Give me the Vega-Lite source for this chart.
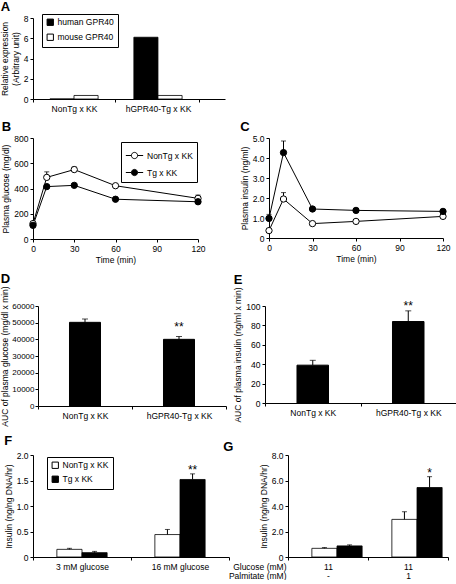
{
  "$schema": "https://vega.github.io/schema/vega-lite/v6.json",
  "padding": {"left": 0, "top": 0, "right": 0, "bottom": 0},
  "background": "white",
  "config": {
    "font": "Liberation Sans",
    "view": {"stroke": null},
    "axis": {"labelFont": "Liberation Sans", "titleFont": "Liberation Sans", "labelFontSize": 8.5, "titleFontSize": 8.5, "titleFontWeight": "normal", "labelColor": "black", "titleColor": "black", "domainColor": "black", "tickColor": "black", "tickSize": 3, "grid": false, "labelPadding": 2, "titlePadding": 3, "labelFlush": false},
    "title": {"fontSize": 13, "fontWeight": "bold", "anchor": "start", "frame": "bounds", "color": "black", "offset": 0},
    "legend": {"labelFont": "Liberation Sans", "labelFontSize": 8.5, "labelColor": "black", "strokeColor": "black", "padding": 4, "rowPadding": 4, "cornerRadius": 0, "labelOffset": 3},
    "tick": {"thickness": 1}
  },
  "concat": [
    {
      "title": {"text": "A", "offset": 0},
      "width": 192, "height": 81,
      "data": {"values": [
        {"group": "NonTg x KK", "gene": "human GPR40", "value": 0},
        {"group": "NonTg x KK", "gene": "mouse GPR40", "value": 0.35},
        {"group": "hGPR40-Tg x KK", "gene": "human GPR40", "value": 6.1},
        {"group": "hGPR40-Tg x KK", "gene": "mouse GPR40", "value": 0.35}
      ]},
      "mark": {"type": "bar", "stroke": "black", "strokeWidth": 0.8},
      "encoding": {
        "x": {"field": "group", "type": "nominal", "sort": null, "title": null, "scale": {"paddingInner": 0.024, "paddingOuter": 0.155, "align": 0}, "axis": {"tickBand": "extent", "labelAngle": 0}},
        "xOffset": {"field": "gene", "type": "nominal", "sort": null, "scale": {"paddingInner": 0, "paddingOuter": 0.7}},
        "y": {"field": "value", "type": "quantitative", "scale": {"domain": [0, 8]}, "axis": {"values": [0, 2, 4, 6, 8], "title": ["Relative expression", "(Arbitrary unit)"]}},
        "fill": {"field": "gene", "type": "nominal", "sort": null, "scale": {"domain": ["human GPR40", "mouse GPR40"], "range": ["black", "white"]}, "legend": {"title": null, "orient": "none", "legendX": 9, "legendY": -4, "symbolType": "square", "symbolStrokeColor": "black", "symbolStrokeWidth": 1, "symbolSize": 40}}
      }
    },
    {
      "hconcat": [
        {
          "title": {"text": "B", "offset": 0},
          "width": 165, "height": 101,
          "data": {"values": [
            {"series": "NonTg x KK", "t": 0, "v": 122},
            {"series": "NonTg x KK", "t": 10, "v": 488, "hi": 532},
            {"series": "NonTg x KK", "t": 30, "v": 550, "hi": 570},
            {"series": "NonTg x KK", "t": 60, "v": 422},
            {"series": "NonTg x KK", "t": 120, "v": 322, "hi": 348},
            {"series": "Tg x KK", "t": 0, "v": 108},
            {"series": "Tg x KK", "t": 10, "v": 415},
            {"series": "Tg x KK", "t": 30, "v": 425},
            {"series": "Tg x KK", "t": 60, "v": 315},
            {"series": "Tg x KK", "t": 120, "v": 295}
          ]},
          "encoding": {
            "x": {"field": "t", "type": "quantitative", "scale": {"domain": [0, 120], "nice": false}, "axis": {"values": [0, 30, 60, 90, 120], "title": "Time (min)"}},
            "y": {"field": "v", "type": "quantitative", "scale": {"domain": [0, 800]}, "axis": {"values": [0, 200, 400, 600, 800], "title": "Plasma glucose (mg/dl)"}}
          },
          "layer": [
            {"mark": {"type": "line", "color": "black", "strokeWidth": 1}, "encoding": {"detail": {"field": "series"}}},
            {"transform": [{"filter": "isValid(datum.hi)"}], "mark": {"type": "rule", "color": "black", "strokeWidth": 1}, "encoding": {"y2": {"field": "hi"}}},
            {"transform": [{"filter": "isValid(datum.hi)"}], "mark": {"type": "tick", "orient": "horizontal", "color": "black", "size": 5, "thickness": 1}, "encoding": {"y": {"field": "hi", "type": "quantitative", "scale": {"domain": [0, 800]}, "axis": {"values": [0, 200, 400, 600, 800], "title": "Plasma glucose (mg/dl)"}}}},
            {"mark": {"type": "point", "shape": "circle", "size": 40, "stroke": "black", "strokeWidth": 1, "opacity": 1, "filled": true},
             "encoding": {"fill": {"field": "series", "type": "nominal", "scale": {"domain": ["NonTg x KK", "Tg x KK"], "range": ["white", "black"]}, "legend": {"title": null, "orient": "none", "legendX": 88, "legendY": 4, "symbolType": "M-1,0L-0.36,0M0.36,0L1,0M-0.36,0A0.36,0.36,0,1,1,0.36,0A0.36,0.36,0,1,1,-0.36,0Z", "symbolSize": 300, "symbolStrokeColor": "black", "symbolStrokeWidth": 1, "rowPadding": 2}}}}
          ]
        },
        {
          "title": {"text": "C", "offset": 0},
          "width": 174, "height": 100,
          "data": {"values": [
            {"series": "NonTg x KK", "t": 0, "v": 0.37},
            {"series": "NonTg x KK", "t": 10, "v": 1.95, "hi": 2.27},
            {"series": "NonTg x KK", "t": 30, "v": 0.72},
            {"series": "NonTg x KK", "t": 60, "v": 0.83},
            {"series": "NonTg x KK", "t": 120, "v": 1.08, "hi": 1.16},
            {"series": "Tg x KK", "t": 0, "v": 0.98, "hi": 1.18},
            {"series": "Tg x KK", "t": 10, "v": 4.27, "hi": 4.85},
            {"series": "Tg x KK", "t": 30, "v": 1.45},
            {"series": "Tg x KK", "t": 60, "v": 1.38},
            {"series": "Tg x KK", "t": 120, "v": 1.33}
          ]},
          "encoding": {
            "x": {"field": "t", "type": "quantitative", "scale": {"domain": [0, 120], "nice": false}, "axis": {"values": [0, 30, 60, 90, 120], "title": "Time (min)"}},
            "y": {"field": "v", "type": "quantitative", "scale": {"domain": [0, 5]}, "axis": {"values": [0, 1, 2, 3, 4, 5], "labelExpr": "datum.value == 0 ? '0' : format(datum.value, '.1f')", "title": "Plasma insulin (ng/ml)"}}
          },
          "layer": [
            {"mark": {"type": "line", "color": "black", "strokeWidth": 1}, "encoding": {"detail": {"field": "series"}}},
            {"transform": [{"filter": "isValid(datum.hi)"}], "mark": {"type": "rule", "color": "black", "strokeWidth": 1}, "encoding": {"y2": {"field": "hi"}}},
            {"transform": [{"filter": "isValid(datum.hi)"}], "mark": {"type": "tick", "orient": "horizontal", "color": "black", "size": 5, "thickness": 1}, "encoding": {"y": {"field": "hi", "type": "quantitative", "scale": {"domain": [0, 5]}, "axis": {"values": [0, 1, 2, 3, 4, 5], "labelExpr": "datum.value == 0 ? '0' : format(datum.value, '.1f')", "title": "Plasma insulin (ng/ml)"}}}},
            {"mark": {"type": "point", "shape": "circle", "size": 40, "stroke": "black", "strokeWidth": 1, "opacity": 1, "filled": true},
             "encoding": {"fill": {"field": "series", "type": "nominal", "scale": {"domain": ["NonTg x KK", "Tg x KK"], "range": ["white", "black"]}, "legend": {"title": null, "orient": "none", "legendX": 96, "legendY": 0, "symbolType": "M-1,0L-0.36,0M0.36,0L1,0M-0.36,0A0.36,0.36,0,1,1,0.36,0A0.36,0.36,0,1,1,-0.36,0Z", "symbolSize": 300, "symbolStrokeColor": "black", "symbolStrokeWidth": 1, "rowPadding": 2}}}}
          ]
        }
      ],
      "bounds": "flush",
      "spacing": 71
    },
    {
      "hconcat": [
        {
          "width": 5, "height": 20,
          "data": {"values": [{"a": 1}]},
          "mark": {"type": "point", "opacity": 0},
          "encoding": {}
        },
        {
          "hconcat": [
            {
              "title": {"text": "D", "offset": 0},
              "width": 188, "height": 100,
              "data": {"values": [
                {"group": "NonTg x KK", "v": 50200, "hi": 52200, "sig": ""},
                {"group": "hGPR40-Tg x KK", "v": 40000, "hi": 41700, "sig": "**"}
              ]},
              "encoding": {
                "x": {"field": "group", "type": "nominal", "sort": null, "title": null, "scale": {"paddingInner": 0, "paddingOuter": 0}, "axis": {"tickBand": "extent", "labelAngle": 0}},
                "y": {"field": "v", "type": "quantitative", "scale": {"domain": [0, 60000]}, "axis": {"values": [0, 10000, 20000, 30000, 40000, 50000, 60000], "format": "d", "labelFontSize": 8, "labelPadding": 1, "titlePadding": 2, "title": "AUC of plasma glucose (mg/dl x min)"}}
              },
              "layer": [
                {"mark": {"type": "bar", "fill": "black", "stroke": "black", "width": {"band": 0.33}}},
                {"mark": {"type": "rule", "color": "black", "strokeWidth": 1}, "encoding": {"y2": {"field": "hi"}}},
                {"mark": {"type": "tick", "orient": "horizontal", "color": "black", "size": 6, "thickness": 1}, "encoding": {"y": {"field": "hi", "type": "quantitative", "scale": {"domain": [0, 60000]}, "axis": {"values": [0, 10000, 20000, 30000, 40000, 50000, 60000], "format": "d", "labelFontSize": 8, "labelPadding": 1, "titlePadding": 2, "title": "AUC of plasma glucose (mg/dl x min)"}}}},
                {"mark": {"type": "text", "fontSize": 12, "baseline": "alphabetic", "dy": -6, "color": "black"}, "encoding": {"y": {"field": "hi", "type": "quantitative", "scale": {"domain": [0, 60000]}, "axis": {"values": [0, 10000, 20000, 30000, 40000, 50000, 60000], "format": "d", "labelFontSize": 8, "labelPadding": 1, "titlePadding": 2, "title": "AUC of plasma glucose (mg/dl x min)"}}, "text": {"field": "sig"}}}
              ]
            },
            {
              "title": {"text": "E", "offset": 0},
              "width": 191, "height": 97,
              "data": {"values": [
                {"group": "NonTg x KK", "v": 39, "hi": 44, "sig": ""},
                {"group": "hGPR40-Tg x KK", "v": 84, "hi": 95, "sig": "**"}
              ]},
              "encoding": {
                "x": {"field": "group", "type": "nominal", "sort": null, "title": null, "scale": {"paddingInner": 0, "paddingOuter": 0}, "axis": {"tickBand": "extent", "labelAngle": 0}},
                "y": {"field": "v", "type": "quantitative", "scale": {"domain": [0, 100]}, "axis": {"values": [0, 20, 40, 60, 80, 100], "title": "AUC of plasma insulin (ng/ml x min)"}}
              },
              "layer": [
                {"mark": {"type": "bar", "fill": "black", "stroke": "black", "width": {"band": 0.33}}},
                {"mark": {"type": "rule", "color": "black", "strokeWidth": 1}, "encoding": {"y2": {"field": "hi"}}},
                {"mark": {"type": "tick", "orient": "horizontal", "color": "black", "size": 6, "thickness": 1}, "encoding": {"y": {"field": "hi", "type": "quantitative", "scale": {"domain": [0, 100]}, "axis": {"values": [0, 20, 40, 60, 80, 100], "title": "AUC of plasma insulin (ng/ml x min)"}}}},
                {"mark": {"type": "text", "fontSize": 12, "baseline": "alphabetic", "dy": -1, "color": "black"}, "encoding": {"y": {"field": "hi", "type": "quantitative", "scale": {"domain": [0, 100]}, "axis": {"values": [0, 20, 40, 60, 80, 100], "title": "AUC of plasma insulin (ng/ml x min)"}}, "text": {"field": "sig"}}}
              ]
            }
          ],
          "bounds": "flush",
          "spacing": 39
        }
      ],
      "bounds": "flush",
      "spacing": 0
    },
    {
      "hconcat": [
        {
          "title": {"text": "F", "offset": 3},
          "width": 196, "height": 102,
          "data": {"values": [
            {"group": "3 mM glucose", "series": "NonTg x KK", "v": 0.15, "hi": 0.17, "sig": ""},
            {"group": "3 mM glucose", "series": "Tg x KK", "v": 0.085, "hi": 0.11, "sig": ""},
            {"group": "16 mM glucose", "series": "NonTg x KK", "v": 0.44, "hi": 0.54, "sig": ""},
            {"group": "16 mM glucose", "series": "Tg x KK", "v": 1.52, "hi": 1.63, "sig": "**"}
          ]},
          "encoding": {
            "x": {"field": "group", "type": "nominal", "sort": null, "title": null, "scale": {"paddingInner": 0, "paddingOuter": 0}, "axis": {"tickBand": "extent", "labelAngle": 0}},
            "xOffset": {"field": "series", "type": "nominal", "sort": null, "scale": {"paddingInner": 0, "paddingOuter": 0.95}},
            "y": {"field": "v", "type": "quantitative", "scale": {"domain": [0, 2]}, "axis": {"values": [0, 0.5, 1, 1.5, 2], "labelExpr": "datum.value == 0 ? '0' : format(datum.value, '.1f')", "title": "Insulin (ng/ng DNA/hr)"}}
          },
          "layer": [
            {"mark": {"type": "bar", "stroke": "black", "strokeWidth": 0.8},
             "encoding": {"fill": {"field": "series", "type": "nominal", "sort": null, "scale": {"domain": ["NonTg x KK", "Tg x KK"], "range": ["white", "black"]}, "legend": {"title": null, "orient": "none", "legendX": 14, "legendY": 2, "symbolType": "square", "symbolStrokeColor": "black", "symbolStrokeWidth": 1, "symbolSize": 40, "rowPadding": 3}}}},
            {"mark": {"type": "rule", "color": "black", "strokeWidth": 1}, "encoding": {"y2": {"field": "hi"}}},
            {"mark": {"type": "tick", "orient": "horizontal", "color": "black", "size": 5, "thickness": 1}, "encoding": {"y": {"field": "hi", "type": "quantitative", "scale": {"domain": [0, 2]}, "axis": {"values": [0, 0.5, 1, 1.5, 2], "labelExpr": "datum.value == 0 ? '0' : format(datum.value, '.1f')", "title": "Insulin (ng/ng DNA/hr)"}}}},
            {"mark": {"type": "text", "fontSize": 12, "baseline": "alphabetic", "dy": 0, "color": "black"}, "encoding": {"y": {"field": "hi", "type": "quantitative", "scale": {"domain": [0, 2]}, "axis": {"values": [0, 0.5, 1, 1.5, 2], "labelExpr": "datum.value == 0 ? '0' : format(datum.value, '.1f')", "title": "Insulin (ng/ng DNA/hr)"}}, "text": {"field": "sig"}}}
          ]
        },
        {
          "title": {"text": "G", "offset": -3},
          "width": 160, "height": 102,
          "data": {"values": [
            {"group": "11|-", "series": "NonTg x KK", "v": 0.68, "hi": 0.74, "sig": ""},
            {"group": "11|-", "series": "Tg x KK", "v": 0.87, "hi": 0.95, "sig": ""},
            {"group": "11|1", "series": "NonTg x KK", "v": 2.95, "hi": 3.55, "sig": ""},
            {"group": "11|1", "series": "Tg x KK", "v": 5.45, "hi": 6.3, "sig": "*"}
          ]},
          "encoding": {
            "x": {"field": "group", "type": "nominal", "sort": null, "scale": {"paddingInner": 0, "paddingOuter": 0}, "axis": {"tickBand": "extent", "labelAngle": 0, "labelExpr": "split(datum.label, '|')", "labelLineHeight": 9.5, "title": ["Glucose     (mM)", "Palmitate (mM)"], "titleAlign": "right", "titleAnchor": "start", "titleX": -2, "titleY": 5, "titleBaseline": "top", "titleLineHeight": 9.5}},
            "xOffset": {"field": "series", "type": "nominal", "sort": null, "scale": {"paddingInner": 0, "paddingOuter": 0.82}},
            "y": {"field": "v", "type": "quantitative", "scale": {"domain": [0, 8]}, "axis": {"values": [0, 2, 4, 6, 8], "labelExpr": "datum.value == 0 ? '0' : format(datum.value, '.1f')", "title": "Insulin (ng/ng DNA/hr)"}}
          },
          "layer": [
            {"mark": {"type": "bar", "stroke": "black", "strokeWidth": 0.8},
             "encoding": {"fill": {"field": "series", "type": "nominal", "sort": null, "scale": {"domain": ["NonTg x KK", "Tg x KK"], "range": ["white", "black"]}, "legend": {"title": null, "orient": "none", "legendX": 18, "legendY": 3, "symbolType": "square", "symbolStrokeColor": "black", "symbolStrokeWidth": 1, "symbolSize": 40, "rowPadding": 3}}}},
            {"mark": {"type": "rule", "color": "black", "strokeWidth": 1}, "encoding": {"y2": {"field": "hi"}}},
            {"mark": {"type": "tick", "orient": "horizontal", "color": "black", "size": 5, "thickness": 1}, "encoding": {"y": {"field": "hi", "type": "quantitative", "scale": {"domain": [0, 8]}, "axis": {"values": [0, 2, 4, 6, 8], "labelExpr": "datum.value == 0 ? '0' : format(datum.value, '.1f')", "title": "Insulin (ng/ng DNA/hr)"}}}},
            {"mark": {"type": "text", "fontSize": 12, "baseline": "alphabetic", "dy": 0, "color": "black"}, "encoding": {"y": {"field": "hi", "type": "quantitative", "scale": {"domain": [0, 8]}, "axis": {"values": [0, 2, 4, 6, 8], "labelExpr": "datum.value == 0 ? '0' : format(datum.value, '.1f')", "title": "Insulin (ng/ng DNA/hr)"}}, "text": {"field": "sig"}}}
          ]
        }
      ],
      "bounds": "flush",
      "spacing": 59
    }
  ],
  "columns": 1,
  "align": "none",
  "spacing": 8,
  "resolve": {"scale": {"fill": "independent", "x": "independent", "y": "independent", "xOffset": "independent"}, "legend": {"fill": "independent"}}
}
